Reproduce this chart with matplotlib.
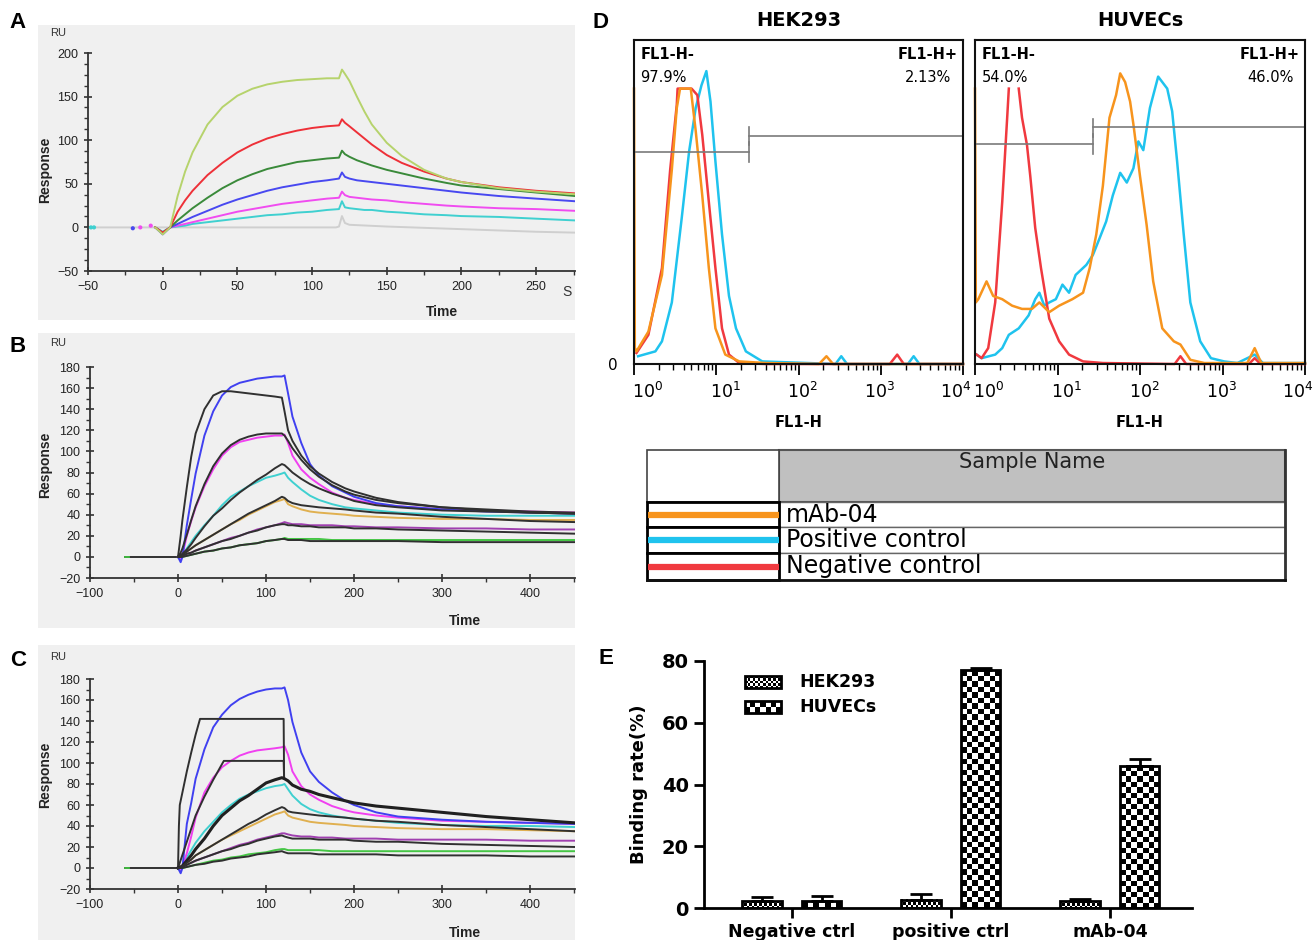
import numpy as np
import matplotlib.pyplot as plt
import matplotlib.font_manager as fm
import matplotlib.transforms as mtransforms
from matplotlib.patches import Rectangle
from matplotlib.ticker import MultipleLocator, LogLocator, NullFormatter, FixedLocator

# ---------------------------------------------------------------
# fonts
# ---------------------------------------------------------------
names = {f.name for f in fm.fontManager.ttflist}
SANS = "Liberation Sans" if "Liberation Sans" in names else "DejaVu Sans"
NARROW = "Liberation Sans Narrow" if "Liberation Sans Narrow" in names else SANS
WIDE = "DejaVu Sans"
plt.rcParams["font.family"] = [SANS, "DejaVu Sans"]
plt.rcParams["mathtext.fontset"] = "custom"
plt.rcParams["mathtext.rm"] = WIDE
plt.rcParams["mathtext.bf"] = WIDE + ":bold"

# ---------------------------------------------------------------
# A) SPR sensorgrams, first antibody (time in s, response in RU)
# ---------------------------------------------------------------
T_A = [-5, 0, 5, 10, 15, 20, 30, 40, 50, 60, 70, 80, 90, 100, 110, 118,
       120, 122, 125, 130, 135, 140, 150, 160, 175, 190, 200, 225, 250, 276]
a_lgreen = [0, -8, 0, 36, 64, 86, 118, 138, 151, 159, 164, 167, 169, 170, 171, 171,
            181, 176, 168, 150, 133, 118, 97, 82, 66, 56, 52, 45, 41, 38]
a_red = [0, -6, 0, 18, 31, 42, 60, 74, 86, 95, 102, 107, 111, 114, 116, 117,
         124, 120, 116, 109, 102, 95, 83, 74, 64, 56, 52, 46, 42, 39]
a_dgreen = [0, -6, 0, 8, 15, 22, 34, 45, 54, 61, 67, 71, 75, 77, 79, 80,
            88, 84, 81, 77, 74, 71, 66, 62, 56, 51, 48, 44, 40, 36]
a_blue = [0, -8, 0, 4, 8, 12, 19, 26, 32, 37, 42, 46, 49, 52, 54, 56,
          63, 58, 56, 54, 53, 52, 50, 48, 45, 42, 40, 36, 33, 30]
a_magenta = [0, -6, 0, 2, 4, 6, 10, 14, 18, 21, 24, 27, 29, 31, 33, 34,
             41, 37, 35, 34, 33, 32, 31, 29, 27, 25, 24, 22, 21, 19]
a_cyan = [0, -5, 0, 1, 2, 4, 6, 8, 10, 12, 14, 15, 17, 18, 20, 21,
          30, 23, 22, 21, 20, 20, 18, 17, 15, 14, 13, 12, 10, 8]
T_A_GREY = [-50, 0, 116, 118, 120, 122, 125, 150, 200, 250, 276]
a_grey = [0, 0, 0, 1, 13, 5, 3, 1, -2, -5, -6]
# stray injection spikes before t=0
A_SPIKE_T = [-48, -46, -20, -15, -8]
A_SPIKE_V = [0, 0, -1, 0, 2]

# ---------------------------------------------------------------
# B / C) sensorgrams with fitted curves (black)
# ---------------------------------------------------------------
T_B = [0, 3, 5, 10, 15, 20, 30, 40, 50, 60, 70, 80, 90, 100, 110, 118, 121,
       125, 130, 140, 150, 160, 175, 190, 200, 225, 250, 300, 350, 400, 451]
T_BASE = [-60, 0]
base_v = [0, 0]

b_blue = [0, -5, 0, 30, 55, 79, 115, 138, 153, 161, 165, 167, 169, 170, 171, 171, 172,
          155, 133, 108, 88, 77, 67, 61, 57, 51, 48, 45, 43, 42, 41]
b_magenta = [0, -2, 2, 20, 34, 47, 67, 83, 96, 104, 109, 111, 113, 114, 115, 115, 116,
             108, 96, 83, 75, 69, 61, 56, 54, 50, 48, 45, 44, 43, 42]
b_cyan = [0, -1, 1, 8, 14, 20, 30, 39, 49, 57, 62, 67, 71, 75, 77, 79, 80,
          75, 71, 64, 58, 54, 50, 47, 46, 44, 42, 40, 39, 39, 39]
b_orange = [0, 1, 2, 5, 8, 11, 16, 21, 26, 31, 35, 40, 44, 48, 52, 54, 55,
            50, 48, 45, 43, 42, 41, 40, 39, 38, 37, 36, 36, 35, 35]
b_purple = [0, 0, 1, 3, 4, 6, 9, 12, 15, 18, 20, 23, 26, 28, 30, 32, 33,
            32, 31, 31, 30, 30, 30, 29, 29, 28, 28, 27, 27, 26, 26]
b_green = [0, 0, 0, 1, 2, 3, 5, 6, 8, 9, 11, 12, 13, 15, 16, 17, 18,
           17, 17, 17, 17, 17, 16, 16, 16, 16, 16, 16, 16, 16, 16]
b_fit1 = [0, 20, 35, 66, 95, 117, 140, 153, 157, 157, 156, 155, 154, 153, 152, 151, 138,
          120, 110, 96, 86, 79, 71, 65, 62, 56, 52, 47, 44, 42, 41]
b_fit2 = [0, 4, 8, 21, 35, 48, 69, 86, 98, 106, 111, 114, 116, 117, 117, 117, 115,
          110, 103, 92, 83, 76, 68, 62, 59, 54, 51, 47, 45, 43, 42]
b_fit3 = [0, 2, 3, 7, 12, 18, 29, 39, 46, 54, 61, 67, 73, 78, 84, 88, 87,
          84, 80, 74, 69, 65, 60, 56, 53, 49, 47, 44, 43, 42, 41]
b_fit4 = [0, 1, 2, 5, 8, 11, 16, 21, 26, 31, 36, 41, 45, 49, 53, 57, 56,
          53, 51, 49, 48, 47, 46, 45, 44, 42, 41, 38, 36, 34, 33]
b_fit5 = [0, 0, 1, 3, 4, 6, 9, 12, 15, 17, 20, 23, 25, 28, 30, 31, 31,
          30, 30, 29, 29, 28, 28, 28, 27, 27, 26, 25, 24, 23, 22]
b_fit6 = [0, 0, 0, 1, 2, 3, 5, 6, 8, 9, 11, 12, 13, 15, 16, 17, 17,
          16, 16, 16, 15, 15, 15, 15, 15, 15, 15, 14, 14, 14, 14]

c_blue = [0, -5, 0, 42, 62, 85, 113, 134, 146, 155, 161, 165, 168, 170, 171, 171, 172,
          160, 139, 110, 92, 82, 72, 64, 60, 53, 49, 46, 44, 43, 42]
c_magenta = [0, -2, 2, 14, 30, 48, 72, 86, 96, 102, 107, 110, 112, 113, 114, 115, 116,
             108, 92, 78, 70, 65, 59, 55, 53, 50, 48, 45, 44, 43, 42]
c_cyan = [0, -1, 1, 10, 17, 24, 35, 44, 53, 60, 66, 70, 73, 76, 78, 79, 80,
          75, 69, 61, 56, 53, 50, 48, 47, 45, 43, 41, 40, 40, 39]
c_orange = [0, 1, 2, 5, 8, 12, 17, 22, 27, 31, 35, 39, 43, 47, 51, 53, 54,
            50, 48, 46, 44, 43, 42, 41, 40, 39, 38, 37, 37, 36, 35]
c_purple = [0, 0, 1, 3, 5, 7, 10, 13, 16, 19, 22, 24, 27, 29, 31, 33, 33,
            32, 31, 30, 30, 29, 29, 28, 28, 28, 27, 27, 27, 26, 26]
c_green = [0, 0, 0, 1, 2, 3, 5, 7, 8, 10, 11, 13, 14, 15, 17, 18, 18,
           17, 17, 17, 17, 17, 16, 16, 16, 16, 16, 16, 16, 16, 16]
C_FIT1_T = [0, 1, 2, 5, 10, 15, 20, 25, 120, 120.5]
c_fit1 = [0, 40, 60, 72, 92, 110, 127, 142, 142, 86]
C_FIT2_T = [0, 10, 20, 30, 40, 50, 52, 120, 120.5]
c_fit2 = [0, 25, 50, 68, 84, 99, 102, 102, 86]
c_fit3 = [0, 1, 2, 7, 12, 18, 28, 40, 50, 57, 64, 69, 75, 81, 84, 86, 85,
          83, 79, 75, 73, 70, 67, 64, 62, 59, 57, 53, 49, 46, 43]
c_fit4 = [0, 1, 2, 5, 8, 12, 17, 22, 27, 32, 37, 42, 46, 51, 55, 58, 57,
          54, 53, 52, 51, 50, 49, 48, 47, 45, 44, 41, 39, 37, 35]
c_fit5 = [0, 0, 1, 3, 5, 7, 10, 13, 16, 18, 21, 23, 26, 28, 30, 31, 30,
          29, 28, 28, 28, 27, 27, 27, 26, 25, 25, 23, 22, 21, 20]
c_fit6 = [0, 0, 0, 1, 2, 3, 4, 6, 7, 9, 10, 11, 13, 14, 15, 16, 15,
          14, 14, 14, 14, 13, 13, 13, 13, 13, 12, 12, 12, 11, 11]

# ---------------------------------------------------------------
# D) flow cytometry histograms: FL1-H position (log10) and count (% of max)
# ---------------------------------------------------------------
hek_red_log = [0.03, 0.175, 0.34, 0.44, 0.52, 0.53, 0.70, 0.77, 0.83, 0.91, 0.99,
               1.07, 1.155, 1.28, 1.6, 3.0, 3.11, 3.2, 3.28, 4.0]
hek_red = [3.4, 9, 29.6, 60, 80, 85, 85, 83, 70.7, 50, 29.6,
           11, 2.9, 0.3, 0, 0, 0, 2.9, 0, 0]
hek_orange_log = [0.0, 0.01, 0.03, 0.175, 0.34, 0.46, 0.52, 0.56, 0.69, 0.75, 0.83,
                  0.91, 0.99, 1.11, 1.28, 1.6, 2.25, 2.34, 2.42, 4.0]
hek_orange = [85, 5, 3.9, 10, 27.5, 60, 79, 85, 85, 72, 52,
              29.6, 11, 2.9, 0.8, 0.3, 0, 2.4, 0, 0]
hek_cyan_log = [0.05, 0.26, 0.34, 0.46, 0.58, 0.67, 0.75, 0.82, 0.88, 0.93, 0.99, 1.07,
                1.155, 1.24, 1.36, 1.56, 2.45, 2.52, 2.59, 3.33, 3.4, 3.47, 4.0]
hek_cyan = [2.4, 3.9, 7, 19, 45, 65.6, 79, 86, 90.4, 81, 62.5, 40,
            21, 11, 3.9, 0.8, 0, 2.4, 0, 0, 2.4, 0, 0]

huv_red_log = [0.02, 0.08, 0.16, 0.245, 0.33, 0.39, 0.41, np.nan, 0.53, 0.57, 0.63, 0.67,
               0.73, 0.8, 0.9, 1.02, 1.14, 1.31, 1.55, 2.42, 2.49, 2.56, 3.32, 3.39, 3.46, 4.0]
huv_red = [2.9, 1.8, 4.9, 19, 50, 76, 85, np.nan, 85, 76, 67.6, 58,
           42, 29.6, 14, 7, 2.9, 0.8, 0.3, 0, 2.4, 0, 0, 1.8, 0, 0]
huv_orange_log = [0.0, 0.01, 0.04, 0.14, 0.22, 0.33, 0.45, 0.57, 0.69, 0.78, 0.9, 1.02,
                  1.18, 1.31, 1.39, 1.47, 1.55, 1.63, 1.71, 1.76, 1.82, 1.88, 1.92, 2.0,
                  2.08, 2.16, 2.27, 2.41, 2.49, 2.61, 2.78, 3.3, 3.39, 3.47, 4.0]
huv_orange = [85, 19, 20, 25.5, 21, 20, 18, 17, 17, 19, 16, 18,
              20, 22, 29.6, 40, 55, 76, 83, 89.7, 87, 81, 74, 58,
              43, 25.5, 11, 7, 6, 1.3, 0.3, 0.3, 4.9, 0.3, 0.3]
huv_cyan_log = [0.02, 0.08, 0.245, 0.33, 0.41, 0.53, 0.65, 0.73, 0.78, 0.84, 0.9, 0.98,
                1.06, 1.14, 1.22, 1.35, 1.43, 1.51, 1.59, 1.67, 1.76, 1.84, 1.92, 1.98,
                2.04, 2.12, 2.22, 2.33, 2.39, 2.45, 2.53, 2.61, 2.73, 2.86, 3.02, 3.18,
                3.39, 3.49, 4.0]
huv_cyan = [2.9, 1.8, 2.9, 4.9, 9, 11, 15, 20, 22, 18, 19, 20,
            24.5, 22, 27.5, 30.6, 33.7, 38.8, 44, 52, 59, 56, 60.4, 68.7,
            66, 79, 88.7, 85, 78, 62.5, 40, 19, 7, 1.8, 0.8, 0.3,
            2.9, 0.3, 0.3]

# gates: (threshold log10, level of FL1-H- bar, level of FL1-H+ bar)
HEK_GATE = (1.40, 65.4, 70.5)
HUV_GATE = (1.43, 67.9, 73.1)
HEK_PCT = ("97.9%", "2.13%")
HUV_PCT = ("54.0%", "46.0%")
SAMPLES = ["mAb-04", "Positive control", "Negative control"]

# ---------------------------------------------------------------
# E) binding rate (%)
# ---------------------------------------------------------------
GROUPS = ["Negative ctrl", "positive ctrl", "mAb-04"]
hek_rate = [2.2, 2.7, 2.2]
hek_err = [1.3, 1.8, 0.8]
huv_rate = [2.2, 77.0, 46.0]
huv_err = [1.6, 0.6, 2.3]

# ---------------------------------------------------------------
# figure in pixel coordinates
# ---------------------------------------------------------------
W, H = 1316, 940
fig = plt.figure(figsize=(W / 100, H / 100), dpi=100)


def px_axes(l, t, r, b, z=1):
    ax = fig.add_axes([l / W, 1 - b / H, (r - l) / W, (b - t) / H], zorder=z)
    ax.set_facecolor("none")
    return ax


ov = px_axes(0, 0, W, H, z=0)
ov.set_xlim(0, W)
ov.set_ylim(H, 0)
ov.axis("off")

INK = "#333333"
TICK_FS = 10 if NARROW != SANS else 9


def spr_axes(rect, xlim, ylim, xmaj, xmin, ymaj, ymin, bg):
    ov.add_patch(Rectangle((bg[0], bg[1]), bg[2] - bg[0], bg[3] - bg[1],
                           facecolor="#f0f0f0", edgecolor="none", zorder=0))
    ax = px_axes(*rect)
    ax.set_xlim(*xlim)
    ax.set_ylim(*ylim)
    for s in ("top", "right"):
        ax.spines[s].set_visible(False)
    for s in ("left", "bottom"):
        ax.spines[s].set_color(INK)
        ax.spines[s].set_linewidth(1.3)
    ax.xaxis.set_major_locator(MultipleLocator(xmaj))
    ax.xaxis.set_minor_locator(MultipleLocator(xmin))
    ax.yaxis.set_major_locator(MultipleLocator(ymaj))
    ax.yaxis.set_minor_locator(MultipleLocator(ymin))
    ax.tick_params(which="major", direction="inout", length=6, width=1.2, color=INK,
                   labelsize=TICK_FS, labelcolor="#222222", pad=4)
    ax.tick_params(which="minor", direction="out", length=3, width=1.0, color=INK)
    for lab in ax.get_xticklabels() + ax.get_yticklabels():
        lab.set_fontfamily(NARROW)
    return ax


# ---- A ----
axA = spr_axes((88, 53, 575, 271), (-50, 276), (-50, 200), 50, 25, 50, 12.5, (38, 25, 575, 320))
axA.plot(T_A_GREY, a_grey, color="#cfcfcf", lw=1.4)
for vals, col in [(a_cyan, "#3fd0d0"), (a_magenta, "#f04cf0"), (a_blue, "#4848f0"),
                  (a_dgreen, "#3a8a3a"), (a_red, "#ee3038"), (a_lgreen, "#b6d36c")]:
    axA.plot(T_A, vals, color=col, lw=1.4)
axA.scatter(A_SPIKE_T, A_SPIKE_V, s=4, c=["#3fd0d0", "#3fd0d0", "#4848f0", "#f04cf0", "#f04cf0"],
            zorder=3)

# ---- B ----
axB = spr_axes((90, 367, 575, 578), (-100, 451), (-20, 180), 100, 50, 20, 10, (38, 333, 575, 628))
axB.plot(T_BASE, base_v, color="#222222", lw=1.3)
axB.plot([-60, -56], [0, 0], color="#40c040", lw=1.3)
for vals, col in [(b_green, "#45c645"), (b_purple, "#a040b0"), (b_orange, "#e0b050"),
                  (b_cyan, "#3fd0d0"), (b_magenta, "#f040f0"), (b_blue, "#4040f0")]:
    axB.plot(T_B, vals, color=col, lw=1.4)
for vals in (b_fit1, b_fit2, b_fit3, b_fit4, b_fit5, b_fit6):
    axB.plot(T_B, vals, color="#303030", lw=1.4)

# ---- C ----
axC = spr_axes((90, 679, 575, 889), (-100, 451), (-20, 180), 100, 50, 20, 10, (38, 645, 575, 940))
axC.plot(T_BASE, base_v, color="#222222", lw=1.3)
axC.plot([-60, -56], [0, 0], color="#40c040", lw=1.3)
for vals, col in [(c_green, "#45c645"), (c_purple, "#a040b0"), (c_orange, "#e0b050"),
                  (c_cyan, "#3fd0d0"), (c_magenta, "#f040f0"), (c_blue, "#4040f0")]:
    axC.plot(T_B, vals, color=col, lw=1.4)
axC.plot(C_FIT1_T, c_fit1, color="#303030", lw=1.4)
axC.plot(C_FIT2_T, c_fit2, color="#303030", lw=1.4)
axC.plot(T_B, c_fit3, color="#202020", lw=2.2)
for vals in (c_fit4, c_fit5, c_fit6):
    axC.plot(T_B, vals, color="#303030", lw=1.4)

for ru_y, resp_y, time_xy in [(33, 170, (442, 312)), (343, 465, (465, 621)), (657, 775, (465, 933))]:
    ov.text(58, ru_y, "RU", fontsize=8, color="#333333", ha="center", va="center", family=NARROW)
    ov.text(45, resp_y, "Response", fontsize=10, fontweight="bold", rotation=90,
            ha="center", va="center", color="#222222")
    ov.text(time_xy[0], time_xy[1], "Time", fontsize=10, fontweight="bold",
            ha="center", va="center", color="#222222")
ov.text(567, 292, "S", fontsize=10, ha="center", va="center", color="#333333", family=NARROW)

# ---- D ----
RED, ORANGE, CYAN = "#f0393f", "#f7941d", "#1fc3ee"
LABEL_SHIFT_PX = [14, 9, 4, -1, -7]   # FlowJo-style offset of the decade labels


def flow_axes(l, r, curves, gate, pct, title, zero_label):
    ax = px_axes(l, 40, r, 364)
    ax.set_xscale("log")
    ax.set_xlim(1, 1e4)
    ax.set_ylim(0, 100)
    for s in ax.spines.values():
        s.set_linewidth(1.5)
        s.set_color("#111111")
    for logs, vals, col in curves:
        ax.plot(10 ** np.asarray(logs), vals, color=col, lw=1.8, clip_on=False)
    thr, lo, hi = gate
    xt = 10 ** thr
    gcol = "#7a7a7a"
    ax.plot([1, xt], [lo, lo], color=gcol, lw=1.2)
    ax.plot([xt, xt], [lo - 3, lo + 3], color=gcol, lw=1.2)
    ax.plot([xt, 1e4], [hi, hi], color=gcol, lw=1.2)
    ax.plot([xt, xt], [hi - 3, hi + 2.5], color=gcol, lw=1.2)
    ax.xaxis.set_major_locator(FixedLocator([1, 10, 100, 1000, 10000]))
    ax.xaxis.set_minor_locator(LogLocator(base=10, subs=np.arange(2, 10), numticks=10))
    ax.xaxis.set_minor_formatter(NullFormatter())
    ax.set_xticklabels([r"$10^{%d}$" % k for k in range(5)])
    ax.tick_params(axis="x", which="major", direction="out", length=8, width=1.3, labelsize=12.5, pad=4)
    ax.tick_params(axis="x", which="minor", direction="out", length=4, width=1.0)
    for lab, dx in zip(ax.get_xticklabels(), LABEL_SHIFT_PX):
        shift = mtransforms.ScaledTranslation(dx / 100, 0, fig.dpi_scale_trans)
        lab.set_transform(lab.get_transform() + shift)
    ax.yaxis.set_major_locator(FixedLocator([0]))
    if zero_label:
        ax.set_yticklabels(["0"], fontsize=11, family=WIDE)
        ax.tick_params(axis="y", length=0, pad=12)
    else:
        ax.tick_params(axis="y", length=0, labelleft=False)
    ax.set_xlabel("FL1-H", fontsize=10.5, fontweight="bold", family=WIDE, labelpad=10)
    ax.set_title(title, fontsize=14, fontweight="bold", family=WIDE, pad=10)
    ax.text(0.02, 0.955, "FL1-H-", transform=ax.transAxes, fontsize=10.5, fontweight="bold",
            family=WIDE, va="center", ha="left")
    ax.text(0.02, 0.885, pct[0], transform=ax.transAxes, fontsize=10.5, family=WIDE,
            va="center", ha="left")
    ax.text(0.985, 0.955, "FL1-H+", transform=ax.transAxes, fontsize=10.5, fontweight="bold",
            family=WIDE, va="center", ha="right")
    ax.text(0.965, 0.885, pct[1], transform=ax.transAxes, fontsize=10.5, family=WIDE,
            va="center", ha="right")
    return ax


flow_axes(634, 963, [(hek_cyan_log, hek_cyan, CYAN), (hek_red_log, hek_red, RED),
                     (hek_orange_log, hek_orange, ORANGE)],
          HEK_GATE, HEK_PCT, "HEK293", True)
flow_axes(975, 1305, [(huv_cyan_log, huv_cyan, CYAN), (huv_red_log, huv_red, RED),
                      (huv_orange_log, huv_orange, ORANGE)],
          HUV_GATE, HUV_PCT, "HUVECs", False)

# sample legend table
TL, TM, TR = 647, 779, 1285
ROWS = [450, 502, 527, 553, 580]
ov.add_patch(Rectangle((TM, ROWS[0]), TR - TM, ROWS[1] - ROWS[0], facecolor="#c0c0c0",
                       edgecolor="#555555", lw=1.5, zorder=1))
ov.add_patch(Rectangle((TL, ROWS[0]), TM - TL, ROWS[1] - ROWS[0], facecolor="white",
                       edgecolor="#444444", lw=1.2, zorder=1))
ov.text((TM + TR) / 2, 462, "Sample Name", fontsize=15, family=WIDE, ha="center", va="center",
        color="#222222", zorder=3)
for i, (name, col) in enumerate(zip(SAMPLES, [ORANGE, CYAN, RED])):
    y0, y1 = ROWS[i + 1], ROWS[i + 2]
    ov.add_patch(Rectangle((TM, y0), TR - TM, y1 - y0, facecolor="white",
                           edgecolor="#666666", lw=1.0, zorder=1))
    ov.add_patch(Rectangle((TL, y0), TM - TL, y1 - y0, facecolor="white",
                           edgecolor="black", lw=2.0, zorder=2))
    ov.plot([TL + 1, TM], [(y0 + y1) / 2] * 2, color=col, lw=4.5, solid_capstyle="butt", zorder=3)
    ov.text(TM + 7, (y0 + y1) / 2, name, fontsize=17, family=WIDE, ha="left", va="center",
            color="black", zorder=3)
ov.plot([TR, TR], [ROWS[0], ROWS[-1]], color="#333333", lw=2, zorder=3)
ov.plot([TL, TR], [ROWS[-1], ROWS[-1]], color="#111111", lw=2, zorder=3)

# ---- E ----
axE = px_axes(704, 661, 1192, 908)
xpos = np.arange(len(GROUPS))
BW, OFF = 0.25, 0.186
axE.set_xlim(-0.553, 2.516)
axE.set_ylim(0, 80)
for s in ("top", "right"):
    axE.spines[s].set_visible(False)
for s in ("left", "bottom"):
    axE.spines[s].set_linewidth(2)
axE.set_yticks([0, 20, 40, 60, 80])
axE.set_xticks(xpos)
axE.set_xticklabels(GROUPS)
axE.tick_params(direction="out", length=7, width=2, pad=4)
for lab in axE.get_xticklabels():
    lab.set_fontsize(12.5)
    lab.set_fontweight("bold")
    lab.set_fontfamily(WIDE)
for lab in axE.get_yticklabels():
    lab.set_fontsize(14)
    lab.set_fontweight("bold")
    lab.set_fontfamily(WIDE)
axE.set_ylabel("Binding rate(%)", fontsize=13, fontweight="bold", family=WIDE, labelpad=10)


def checker(ax, x0, x1, y0, y1, cell, z=2):
    p0 = ax.transData.transform((x0, y0))
    p1 = ax.transData.transform((x1, y1))
    nx = max(1, int(round(abs(p1[0] - p0[0]) / cell)))
    ny = max(1, int(round(abs(p1[1] - p0[1]) / cell)))
    tile = np.indices((ny, nx)).sum(axis=0) % 2
    ax.imshow(tile, cmap="gray", vmin=0, vmax=1, extent=(x0, x1, y0, y1), origin="lower",
              interpolation="nearest", aspect="auto", zorder=z)


for offs, vals, errs, cell in [(-OFF, hek_rate, hek_err, 2.5), (OFF, huv_rate, huv_err, 5.5)]:
    bars = axE.bar(xpos + offs, vals, BW, facecolor="none", edgecolor="black", lw=2, zorder=4,
                   yerr=[np.zeros(len(vals)), errs],
                   error_kw=dict(ecolor="black", elinewidth=2, capsize=8, capthick=2, zorder=3))
    for b in bars:
        checker(axE, b.get_x(), b.get_x() + b.get_width(), 0, b.get_height(), cell)
axE.set_xlim(-0.553, 2.516)
axE.set_ylim(0, 80)

# legend of E
for (ly, label, cell) in [(682, "HEK293", 2.5), (707, "HUVECs", 5.5)]:
    checker(ov, 745, 781, ly + 6, ly - 6, cell, z=2)
    ov.add_patch(Rectangle((745, ly - 6), 36, 12, facecolor="none", edgecolor="black", lw=2, zorder=3))
    ov.text(799, ly, label, fontsize=12.5, fontweight="bold", family=WIDE, ha="left", va="center")
ov.set_xlim(0, W)
ov.set_ylim(H, 0)

# panel letters
for letter, x, y in [("A", 18, 22), ("B", 18, 347), ("C", 18, 660), ("D", 600, 22), ("E", 606, 658)]:
    ov.text(x, y, letter, fontsize=16, fontweight="bold", ha="center", va="center")

fig.savefig("out.png", dpi=100)
